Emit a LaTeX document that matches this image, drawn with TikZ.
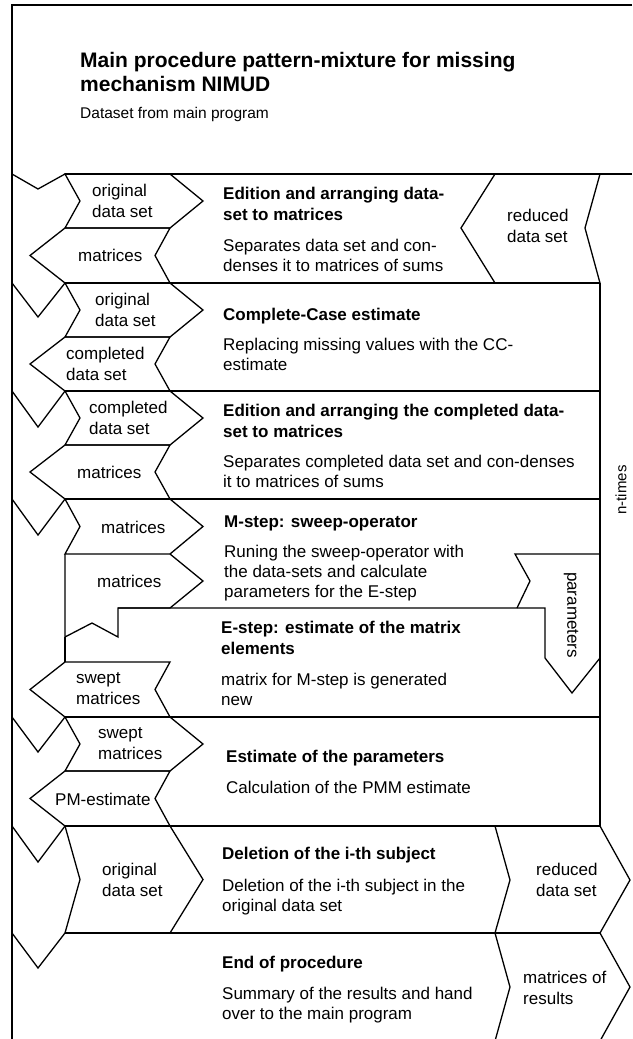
\documentclass[tikz,border=0pt]{standalone}
\usepackage{fontspec}
\setmainfont{Liberation Sans}
\usetikzlibrary{positioning}
\tikzset{
  frame/.style={draw=black, line width=1.3pt, line join=miter},
  headtext/.style={font=\fontsize{21}{24}\selectfont\bfseries, align=left, anchor=base west, inner sep=0pt},
  steptext/.style={font=\fontsize{17}{21}\selectfont\bfseries, align=left, anchor=base west, inner sep=0pt},
  desctext/.style={font=\fontsize{17}{20}\selectfont, align=left, anchor=base west, inner sep=0pt},
  flowtext/.style={font=\fontsize{17}{21}\selectfont, align=left, anchor=west, inner sep=0pt}
}
\begin{document}
\begin{tikzpicture}[x=1pt, y=-1pt]
  \useasboundingbox (0,0) rectangle (632,1039);
  % outer frame and heading
  \draw[frame] (632,5) -- (12,5) -- (12,1039);
  \node[headtext] (title) at (80,91) {Main procedure pattern-mixture for missing\\mechanism NIMUD};
  \node[desctext, font=\fontsize{15.5}{18}\selectfont] (source) at (80,118) {Dataset from main program};

  % loop body, row lines
  \draw[frame] (65,174) -- (632,174);
  \draw[frame] (600,283) -- (600,826);
  \foreach \y in {283,391,499,717,826,933}
    \draw[frame] (65,\y) -- (600,\y);
  \foreach \t/\d in {174/15,283/34,391/36,499/36,717/35,826/36,933/35}
    \draw[frame] (12,\t) -- (38,\t+\d) -- (65,\t);

  % data in (pointing right) and data out (pointing left)
  \foreach \a/\b in {174/228,283/337,391/445,499/554,717/771,826/933}
    \draw[frame] (65,\a) -- (170,\a) -- (203,{(\a+\b)/2}) -- (170,\b) -- (65,\b) -- (80,{(\a+\b)/2}) -- cycle;
  \foreach \a/\b in {228/283,337/391,445/499,662/717,771/826}
    \draw[frame] (65,\a) -- (170,\a) -- (155,{(\a+\b)/2}) -- (170,\b) -- (65,\b) -- (30,{(\a+\b)/2}) -- cycle;

  % M-step / E-step loop
  \draw[frame] (170,554) -- (203,581) -- (170,608) -- (118,608) -- (118,637) -- (92,623) -- (65,637) -- (65,554);
  \draw[frame] (65,637) -- (65,662);
  \draw[frame] (118,608) -- (545,608) -- (545,658) -- (572,693) -- (600,658);
  \draw[frame] (600,554) -- (515,554) -- (530,581) -- (517,608);

  % right hand data
  \draw[frame] (600,174) -- (495,174) -- (461,228) -- (495,283) -- (600,283) -- (585,228) -- cycle;
  \draw[frame] (495,826) -- (600,826) -- (630,880) -- (600,933) -- (495,933) -- (510,880) -- cycle;
  \draw[frame] (495,1041) -- (510,987) -- (495,933) -- (600,933) -- (630,987) -- (600,1041);

  % steps (base = last line)
  \node[steptext] (edit) at (223,220) {Edition and arranging data-\\set to matrices};
  \node[desctext] (editdesc) at (223,271) {Separates data set and con-\\denses it to matrices of sums};
  \node[steptext] (cc) at (223,320) {Complete-Case estimate};
  \node[desctext] (ccdesc) at (223,370) {Replacing missing values with the CC-\\estimate};
  \node[steptext] (editcc) at (223,437) {Edition and arranging the completed data-\\set to matrices};
  \node[desctext] (editccdesc) at (223,487) {Separates completed data set and con-denses\\it to matrices of sums};
  \node[steptext] (mstep) at (224,527) {M-step: sweep-operator};
  \node[desctext] (mstepdesc) at (224,597) {Runing the sweep-operator with\\the data-sets and calculate\\parameters for the E-step};
  \node[steptext] (estep) at (221,654) {E-step: estimate of the matrix\\elements};
  \node[desctext] (estepdesc) at (221,705) {matrix for M-step is generated\\new};
  \node[steptext] (param) at (226,762) {Estimate of the parameters};
  \node[desctext] (paramdesc) at (226,793) {Calculation of the PMM estimate};
  \node[steptext] (delete) at (222,859) {Deletion of the i-th subject};
  \node[desctext] (deletedesc) at (222,911) {Deletion of the i-th subject in the\\original data set};
  \node[steptext] (finish) at (222,968) {End of procedure};
  \node[desctext] (finishdesc) at (222,1019) {Summary of the results and hand\\over to the main program};

  % data labels
  \node[flowtext] (in1) at (92,201) {original\\data set};
  \node[flowtext] (out1) at (78,255) {matrices};
  \node[flowtext] (in2) at (95,310) {original\\data set};
  \node[flowtext] (out2) at (66,364) {completed\\data set};
  \node[flowtext] (in3) at (89,418) {completed\\data set};
  \node[flowtext] (out3) at (77,472) {matrices};
  \node[flowtext] (in4) at (101,527) {matrices};
  \node[flowtext] (back4) at (97,581) {matrices};
  \node[flowtext] (out4) at (76,689) {swept\\matrices};
  \node[flowtext] (in5) at (98,744) {swept\\matrices};
  \node[flowtext] (out5) at (55,799) {PM-estimate};
  \node[flowtext] (in6) at (102,880) {original\\data set};
  \node[flowtext] (reduced) at (507,226) {reduced\\data set};
  \node[flowtext] (out6) at (536,880) {reduced\\data set};
  \node[flowtext] (results) at (523,988) {matrices of\\results};
  \node[flowtext, anchor=center, rotate=-90] (params) at (571,615) {parameters};
  \node[flowtext, anchor=center, rotate=90, font=\fontsize{15}{18}\selectfont] (loop) at (621,490) {n-times};
\end{tikzpicture}
\end{document}
